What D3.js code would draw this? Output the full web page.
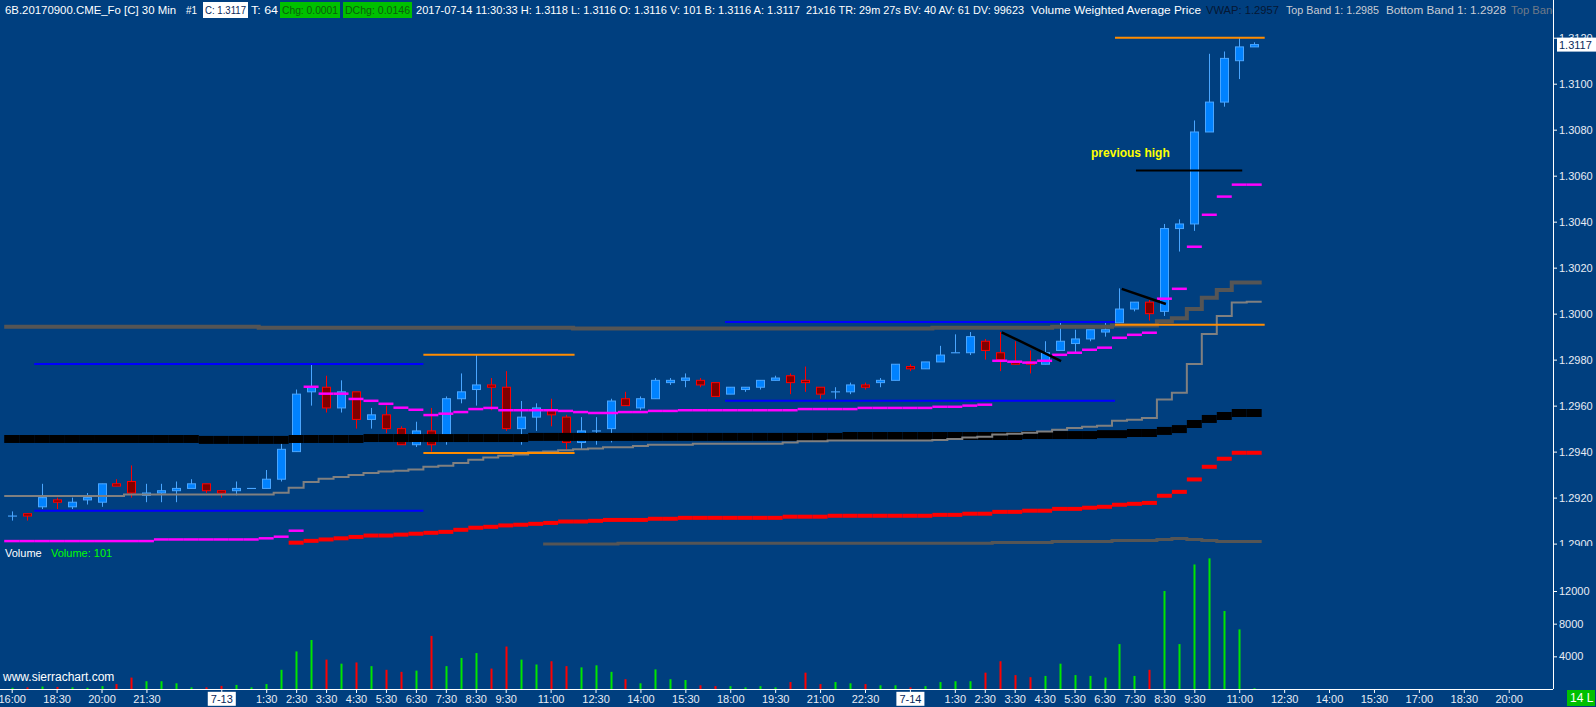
<!DOCTYPE html>
<html>
<head>
<meta charset="utf-8">
<script src="https://cdn.jsdelivr.net/npm/d3@7"></script>
<style>
  html, body { margin: 0; padding: 0; background: #003f7f; overflow: hidden; }
  svg { display: block; }
  text { font-family: "Liberation Sans", Arial, sans-serif; font-size: 11px; }
</style>
</head>
<body>
<div id="chart"></div>
<script>
// ---- 30 min bars, 6B Sep 2017, 7-12 17:00 -> 7-14 11:30 ----
var opens  = [1.2912,1.2913,1.2916,1.2919,1.2916,1.2919,1.2918,1.2926,1.2927,1.2921,1.2922,1.2923,1.2924,1.2926,1.2923,1.2923,1.2924,1.2924,1.2928,1.2940,
              1.2966,1.2968,1.2959,1.2966,1.2954,1.2956,1.2950,1.2943,1.2949,1.2945,1.2963,1.2967,1.2969,1.2968,1.2950,1.2955,1.2958,1.2955,1.2944,1.2949,
              1.2950,1.2963,1.2959,1.2963,1.2970,1.2971,1.2971,1.2970,1.2965,1.2967,1.2968,1.2971,1.2973,1.2971,1.2968,1.2966,1.2966,1.2969,1.2970,1.2971,
              1.2977,1.2976,1.2979,1.2983,1.2983,1.2988,1.2983,1.2979,1.2979,1.2978,1.2984,1.2987,1.2989,1.2992,1.2996,1.3002,1.3005,1.3001,1.3037,1.3039,
              1.3079,1.3092,1.3110,1.3116];
var highs  = [1.2914,1.2913,1.2926,1.2920,1.2920,1.2922,1.2926,1.2928,1.2934,1.2926,1.2926,1.2927,1.2928,1.2926,1.2923,1.2927,1.2924,1.2932,1.2944,1.2967,
              1.2978,1.2973,1.2971,1.2966,1.2959,1.2960,1.2951,1.2953,1.2959,1.2964,1.2974,1.2982,1.2972,1.2975,1.2962,1.2961,1.2963,1.2956,1.2955,1.2955,
              1.2963,1.2966,1.2964,1.2972,1.2972,1.2974,1.2972,1.2970,1.2968,1.2968,1.2971,1.2973,1.2974,1.2977,1.2968,1.2968,1.2970,1.2970,1.2972,1.2978,
              1.2978,1.2979,1.2986,1.2991,1.2992,1.2989,1.2992,1.2988,1.2984,1.2988,1.2996,1.2993,1.2993,1.2996,1.3011,1.3005,1.3006,1.3039,1.3041,1.3084,
              1.3113,1.3114,1.3120,1.3118];
var lows   = [1.2910,1.2910,1.2915,1.2915,1.2915,1.2917,1.2916,1.2925,1.2920,1.2918,1.2918,1.2918,1.2924,1.2922,1.2920,1.2921,1.2924,1.2924,1.2927,1.2940,
              1.2960,1.2957,1.2957,1.2950,1.2950,1.2948,1.2943,1.2942,1.2940,1.2943,1.2961,1.2960,1.2958,1.2949,1.2943,1.2949,1.2951,1.2941,1.2941,1.2943,
              1.2944,1.2960,1.2958,1.2963,1.2969,1.2968,1.2968,1.2964,1.2965,1.2966,1.2967,1.2971,1.2965,1.2966,1.2963,1.2963,1.2965,1.2967,1.2968,1.2971,
              1.2975,1.2976,1.2979,1.2983,1.2982,1.2980,1.2975,1.2978,1.2974,1.2978,1.2984,1.2983,1.2988,1.2990,1.2996,1.3001,1.2997,1.2999,1.3027,1.3036,
              1.3079,1.3090,1.3102,1.3116];
var closes = [1.2912,1.2912,1.2920,1.2918,1.2918,1.2920,1.2926,1.2925,1.2922,1.2922,1.2923,1.2924,1.2926,1.2923,1.2922,1.2924,1.2924,1.2928,1.2941,1.2965,
              1.2968,1.2959,1.2966,1.2954,1.2956,1.2950,1.2943,1.2949,1.2943,1.2963,1.2966,1.2969,1.2968,1.2950,1.2955,1.2959,1.2956,1.2944,1.2949,1.2949,
              1.2962,1.2960,1.2963,1.2971,1.2971,1.2972,1.2969,1.2964,1.2968,1.2968,1.2971,1.2972,1.2970,1.2970,1.2965,1.2966,1.2969,1.2968,1.2971,1.2978,
              1.2976,1.2979,1.2982,1.2983,1.2990,1.2984,1.2980,1.2978,1.2978,1.2983,1.2988,1.2989,1.2993,1.2993,1.3002,1.3005,1.3000,1.3037,1.3039,1.3079,
              1.3092,1.3111,1.3116,1.3117];
var volumes = [150,200,300,250,200,150,350,600,1400,950,950,700,200,200,380,500,200,600,2350,4600,
               6000,3600,3100,3250,2800,2350,2100,2250,6500,2800,3800,4400,2500,5200,3600,3000,3400,2800,2650,2900,
               2100,1200,700,2400,1200,1100,450,350,350,200,350,200,850,2000,600,850,700,600,450,450,
               200,350,850,950,950,2000,3400,1700,1450,1600,3100,1700,1600,1400,5500,1600,2350,12000,5500,15250,
               16000,9550,7300,101];

// time scale labels (bar index -> text)
var tickIdx    = [0,3,6,9,14,17,19,21,23,25,27,29,31,33,36,39,42,45,48,51,54,57,60,63,65,67,69,71,73,75,77,79,82,85,88,91,94,97,100];
var tickLabels = ["16:00","18:30","20:00","21:30","7-13","1:30","2:30","3:30","4:30","5:30","6:30","7:30","8:30","9:30","11:00","12:30","14:00","15:30",
                  "18:00","19:30","21:00","22:30","7-14","1:30","2:30","3:30","4:30","5:30","6:30","7:30","8:30","9:30","11:00","12:30","14:00","15:30",
                  "17:00","18:30","20:00"];
var priceTicks = [1.2900,1.2920,1.2940,1.2960,1.2980,1.3000,1.3020,1.3040,1.3060,1.3080,1.3100,1.3120];
var volTicks   = [4000,8000,12000];

// study lines as runs: [first bar, last bar, value]
var vwapRuns = [[0,12,1.29455],[13,18,1.29451],[19,23,1.29455],[24,34,1.29459],[35,55,1.29464],[56,67,1.29468],[68,72,1.29472],
                [73,74,1.29476],[75,76,1.29481],[77,77,1.29490],[78,78,1.29498],[79,79,1.29520],[80,80,1.29542],[81,81,1.29555],[82,83,1.29568]];
var band1Runs = [[0,7,1.29207],[8,17,1.29213],[18,18,1.29221],[19,19,1.29243],[20,20,1.29268],[21,21,1.29282],[22,22,1.29290],[23,23,1.29298],
                 [24,24,1.29307],[25,25,1.29313],[26,26,1.29317],[27,27,1.29322],[28,28,1.29334],[29,29,1.29339],[30,30,1.29351],[31,31,1.29365],
                 [32,32,1.29374],[33,33,1.29382],[34,34,1.29388],[35,35,1.29397],[36,36,1.29401],[37,37,1.29406],[38,38,1.29410],[39,39,1.29414],
                 [40,41,1.29419],[42,42,1.29424],[43,45,1.29430],[46,51,1.29434],[52,52,1.29440],[53,54,1.29445],[55,61,1.29448],[62,62,1.29451],
                 [63,63,1.29455],[64,64,1.29461],[65,65,1.29465],[66,66,1.29474],[67,67,1.29478],[68,68,1.29482],[69,69,1.29487],[70,70,1.29495],
                 [71,71,1.29503],[72,72,1.29508],[73,73,1.29513],[74,74,1.29534],[75,75,1.29539],[76,76,1.29546],[77,77,1.29627],[78,78,1.29656],
                 [79,79,1.29781],[80,80,1.29912],[81,81,1.29990],[82,82,1.30048],[83,83,1.30052]];
var upperBandRuns = [[0,16,1.29943],[17,37,1.29939],[38,61,1.29935],[62,69,1.29939],[70,73,1.29943],[74,76,1.29948],[77,77,1.29967],
                     [78,78,1.29980],[79,79,1.30020],[80,80,1.30069],[81,81,1.30103],[82,83,1.30135]];
var lowerBandRuns = [[36,40,1.28998],[41,65,1.29002],[66,69,1.29005],[70,73,1.29009],[74,76,1.29013],[77,77,1.29018],[78,78,1.29022],
                     [79,79,1.29018],[80,80,1.29013],[81,83,1.29009]];
var redRuns = [[19,19,1.29004],[20,20,1.29012],[21,21,1.29018],[22,22,1.29023],[23,23,1.29029],[24,25,1.29035],[26,26,1.29039],[27,27,1.29043],
               [28,28,1.29047],[29,29,1.29051],[30,30,1.29060],[31,31,1.29069],[32,32,1.29073],[33,33,1.29079],[34,34,1.29082],[35,35,1.29086],
               [36,36,1.29090],[37,38,1.29096],[39,39,1.29099],[40,42,1.29103],[43,44,1.29108],[45,51,1.29112],[52,54,1.29117],[55,61,1.29121],
               [62,63,1.29125],[64,65,1.29130],[66,67,1.29138],[68,69,1.29143],[70,71,1.29151],[72,72,1.29156],[73,73,1.29160],[74,74,1.29169],
               [75,75,1.29173],[76,76,1.29177],[77,77,1.29208],[78,78,1.29225],[79,79,1.29279],[80,80,1.29334],[81,81,1.29369],[82,83,1.29395]];
var magentaRuns = [[0,9,1.29011],[10,16,1.29018],[17,17,1.29023],[18,18,1.29030],[19,19,1.29056],[20,20,1.29682],[21,22,1.29652],[23,23,1.29629],
                   [24,24,1.29621],[25,25,1.29608],[26,26,1.29591],[27,27,1.29582],[28,28,1.29559],[29,29,1.29565],[30,30,1.29572],[31,31,1.29585],
                   [32,32,1.29590],[33,36,1.29580],[37,37,1.29577],[38,38,1.29572],[39,40,1.29568],[41,42,1.29572],[43,44,1.29577],[45,52,1.29580],
                   [53,56,1.29585],[57,61,1.29590],[62,63,1.29595],[64,64,1.29600],[65,65,1.29604],[66,66,1.29795],[67,67,1.29791],[68,68,1.29787],
                   [69,69,1.29795],[70,70,1.29821],[71,71,1.29830],[72,72,1.29843],[73,73,1.29852],[74,74,1.29895],[75,75,1.29908],[76,76,1.29917],
                   [77,77,1.30065],[78,78,1.30108],[79,79,1.30291],[80,80,1.30430],[81,81,1.30509],[82,83,1.30561]];

// drawing tools: horizontal lines [from bar, to bar, price], trend lines [bar, price, bar, price]
var blueLines   = [[1.5,27.5,1.29781],[1.5,27.5,1.29143],[47.65,73.7,1.29964],[47.65,73.7,1.29621]];
var orangeLines = [[27.5,37.6,1.29821],[27.5,37.6,1.29394],[73.7,83.7,1.29952],[73.7,83.7,1.31200]];
var blackLines  = [[75.1,82.2,1.30622]];
var trendLines  = [[66.13,1.29919,70.1,1.29794],[74.15,1.30108,77.1,1.30042]];
var noteText = "previous high", notePos = [72.1, 1.30681];

// ---------------- layout ----------------
var W = 1596, H = 707;
var axisX = 1553, paneTop = 19, paneBottom = 546, volBottom = 689;

var svg = d3.select("#chart").append("svg").attr("width", W).attr("height", H);
svg.append("rect").attr("width", W).attr("height", H).attr("fill", "#003f7f");

var x = d3.scaleLinear().domain([0, 100]).range([11.7, 1508.7]);
var bw = x(1) - x(0);
var y = d3.scaleLinear().domain([1.29, 1.312]).range([543.6, 37.7]);
var yv = d3.scaleLinear().domain([0, 12000]).range([volBottom, 591]);

var defs = svg.append("defs");
defs.append("clipPath").attr("id", "pc").append("rect")
  .attr("x", 0).attr("y", paneTop).attr("width", axisX).attr("height", paneBottom - paneTop);
defs.append("clipPath").attr("id", "hc").append("rect")
  .attr("x", 0).attr("y", 0).attr("width", axisX).attr("height", paneTop);
defs.append("clipPath").attr("id", "ac").append("rect")
  .attr("x", axisX).attr("y", paneTop).attr("width", W - axisX).attr("height", paneBottom - paneTop);

var bars = d3.range(opens.length).map(function(i) {
  return {i: i, o: opens[i], h: highs[i], l: lows[i], c: closes[i], v: volumes[i]};
});
function up(d) { return d.c >= d.o; }

function expand(runs) {
  var out = [];
  runs.forEach(function(r) { for (var i = r[0]; i <= r[1]; i++) out.push({i: i, v: r[2]}); });
  return out;
}

var pane = svg.append("g").attr("clip-path", "url(#pc)");

// candles
var cg = pane.append("g");
cg.selectAll("line").data(bars).join("line")
  .attr("x1", function(d) { return Math.round(x(d.i)) + 0.5; })
  .attr("x2", function(d) { return Math.round(x(d.i)) + 0.5; })
  .attr("y1", function(d) { return y(d.h); })
  .attr("y2", function(d) { return y(d.l); })
  .attr("stroke", function(d) { return up(d) ? "#4aa6ff" : "#ff0000"; })
  .attr("stroke-width", 1);
cg.selectAll("rect").data(bars).join("rect")
  .attr("x", function(d) { return Math.round(x(d.i)) - 3.5; })
  .attr("width", 8)
  .attr("y", function(d) { return Math.min(y(d.o), y(d.c)); })
  .attr("height", function(d) { return Math.max(0.1, Math.abs(y(d.o) - y(d.c))); })
  .attr("fill", function(d) { return up(d) ? "#0082ff" : "#800000"; })
  .attr("stroke", function(d) { return up(d) ? "#4aa6ff" : "#ff0000"; })
  .attr("stroke-width", 1);

// stair line with vertical joins
var stair = d3.line().curve(d3.curveStepAfter);
function stairLine(runs, color, width) {
  var pts = expand(runs).map(function(d) { return [x(d.i) - bw / 2, y(d.v)]; });
  var last = expand(runs).slice(-1)[0];
  pts.push([x(last.i) + bw / 2, y(last.v)]);
  pane.append("path").attr("d", stair(pts)).attr("fill", "none")
    .attr("stroke", color).attr("stroke-width", width);
}
// per bar dashes, no joins
function dashLine(runs, color, width) {
  pane.append("g").selectAll("line").data(expand(runs)).join("line")
    .attr("x1", function(d) { return x(d.i) - bw / 2; })
    .attr("x2", function(d) { return x(d.i) + bw / 2; })
    .attr("y1", function(d) { return y(d.v); })
    .attr("y2", function(d) { return y(d.v); })
    .attr("stroke", color).attr("stroke-width", width);
}

stairLine(lowerBandRuns, "#555555", 3);
dashLine(redRuns, "#ff0000", 4);
stairLine(upperBandRuns, "#555555", 4);
dashLine(vwapRuns, "#000000", 8);
stairLine(band1Runs, "#808080", 2);
dashLine(magentaRuns, "#ff00ff", 2.5);

// drawings
function hLines(list, color, width) {
  pane.append("g").selectAll("line").data(list).join("line")
    .attr("x1", function(d) { return x(d[0]); })
    .attr("x2", function(d) { return x(d[1]); })
    .attr("y1", function(d) { return y(d[2]); })
    .attr("y2", function(d) { return y(d[2]); })
    .attr("stroke", color).attr("stroke-width", width);
}
hLines(blueLines, "#0000ff", 2);
hLines(orangeLines, "#ff8c00", 2);
hLines(blackLines, "#000000", 2);
pane.append("g").selectAll("line").data(trendLines).join("line")
  .attr("x1", function(d) { return x(d[0]); })
  .attr("y1", function(d) { return y(d[1]); })
  .attr("x2", function(d) { return x(d[2]); })
  .attr("y2", function(d) { return y(d[3]); })
  .attr("stroke", "#000000").attr("stroke-width", 2.5);

pane.append("text").attr("x", x(notePos[0])).attr("y", y(notePos[1]))
  .attr("fill", "#ffff00").style("font-size", "12px").style("font-weight", "bold")
  .text(noteText);

// volume
svg.append("g").selectAll("rect").data(bars).join("rect")
  .attr("x", function(d) { return Math.round(x(d.i)) - 0.5; })
  .attr("width", 2)
  .attr("y", function(d) { return yv(d.v); })
  .attr("height", function(d) { return yv(0) - yv(d.v); })
  .attr("fill", function(d) { return up(d) ? "#00e600" : "#ff0000"; });

// axes
function styleAxis(g) {
  g.select(".domain").remove();
  g.selectAll(".tick line").attr("stroke", "#ffffff");
  g.selectAll(".tick text").attr("fill", "#e8ecf4").style("font-size", "11px")
    .style("font-family", '"Liberation Sans", Arial, sans-serif');
}
var xa = svg.append("g").attr("transform", "translate(0," + volBottom + ")")
  .call(d3.axisBottom(x).tickValues(tickIdx).tickSize(4).tickPadding(2)
    .tickFormat(function(d, k) { return tickLabels[k]; }));
styleAxis(xa);
xa.selectAll(".tick").filter(function(d, k) { return tickLabels[k].indexOf("-") > 0; })
  .each(function() {
    var t = d3.select(this).select("text");
    var bb = t.node().getBBox();
    d3.select(this).insert("rect", "text")
      .attr("x", bb.x - 3).attr("y", bb.y - 1).attr("width", bb.width + 6).attr("height", bb.height + 2)
      .attr("fill", "#ffffff");
    t.attr("fill", "#0a2a5a");
  });

var pa = svg.append("g").attr("clip-path", "url(#ac)").append("g")
  .attr("transform", "translate(" + axisX + ",0)")
  .call(d3.axisRight(y).tickValues(priceTicks).tickSize(4).tickPadding(2).tickFormat(d3.format(".4f")));
styleAxis(pa);

var va = svg.append("g").attr("transform", "translate(" + axisX + ",0)")
  .call(d3.axisRight(yv).tickValues(volTicks).tickSize(4).tickPadding(2).tickFormat(d3.format("d")));
styleAxis(va);

svg.append("line").attr("x1", axisX + 0.5).attr("x2", axisX + 0.5).attr("y1", 0).attr("y2", volBottom)
  .attr("stroke", "#ffffff");
svg.append("line").attr("x1", 0).attr("x2", axisX).attr("y1", volBottom + 0.5).attr("y2", volBottom + 0.5)
  .attr("stroke", "#ffffff");

// last price marker
var lastC = closes[closes.length - 1];
svg.append("rect").attr("x", axisX + 4).attr("y", y(lastC) - 7).attr("width", 39).attr("height", 14).attr("fill", "#ffffff");
svg.append("text").attr("x", axisX + 6).attr("y", y(lastC) + 4).attr("fill", "#0a2a5a").text(d3.format(".4f")(lastC));

// bottom-right badge
svg.append("rect").attr("x", 1567).attr("y", 690).attr("width", 28).attr("height", 16).attr("fill", "#00c000");
svg.append("text").attr("x", 1570).attr("y", 702).attr("fill", "#ffffff").style("font-size", "12px").text("14 L");

// header line
var hg = svg.append("g").attr("clip-path", "url(#hc)");
var head = [
  {t: "6B.20170900.CME_Fo [C]  30 Min", x: 5, w: 171, c: "#ffffff"},
  {t: "#1", x: 186, w: 11, c: "#ffffff"},
  {t: "C: 1.3117", x: 205, w: 41, c: "#0a2a5a", bg: "#ffffff", bx: 203, bwd: 45},
  {t: "T: 64", x: 251, w: 27, c: "#ffffff"},
  {t: "Chg: 0.0001", x: 282, w: 56, c: "#0b5e0b", bg: "#00c000", bx: 280, bwd: 60},
  {t: "DChg: 0.0146", x: 345, w: 65, c: "#0b5e0b", bg: "#00c000", bx: 343, bwd: 69},
  {t: "2017-07-14 11:30:33 H: 1.3118 L: 1.3116 O: 1.3116 V: 101 B: 1.3116 A: 1.3117", x: 416, w: 384, c: "#ffffff"},
  {t: "21x16 TR: 29m 27s BV: 40 AV: 61 DV: 99623", x: 806, w: 218, c: "#ffffff"},
  {t: "Volume Weighted Average Price", x: 1031, w: 170, c: "#ffffff"},
  {t: "VWAP: 1.2957", x: 1206, w: 73, c: "#061733"},
  {t: "Top Band 1: 1.2985", x: 1286, w: 93, c: "#c8ccd4"},
  {t: "Bottom Band 1: 1.2928", x: 1386, w: 120, c: "#c8ccd4"},
  {t: "Top Band 2", x: 1511, w: 57, c: "#6f7a88"}
];
head.forEach(function(h) {
  if (h.bg) hg.append("rect").attr("x", h.bx).attr("y", 2).attr("width", h.bwd).attr("height", 16).attr("fill", h.bg);
  hg.append("text").attr("x", h.x).attr("y", 14).attr("fill", h.c)
    .attr("textLength", h.w).attr("lengthAdjust", "spacingAndGlyphs").text(h.t);
});

// pane labels
svg.append("text").attr("x", 5).attr("y", 557).attr("fill", "#ffffff").text("Volume");
svg.append("text").attr("x", 51).attr("y", 557).attr("fill", "#00ff00").text("Volume: " + volumes[volumes.length - 1]);
svg.append("text").attr("x", 3).attr("y", 681).attr("fill", "#ffffff").style("font-size", "12px").text("www.sierrachart.com");
</script>
</body>
</html>
